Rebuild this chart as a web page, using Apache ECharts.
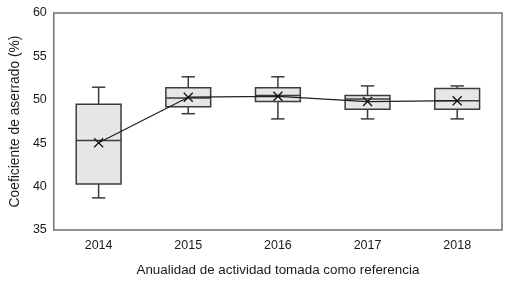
<!DOCTYPE html>
<html>
<head>
<meta charset="utf-8">
<script src="https://cdn.jsdelivr.net/npm/echarts@6/dist/echarts.min.js"></script>
<style>html,body{margin:0;padding:0;background:#fff}#c{width:511px;height:284px}</style>
</head>
<body>
<div id="c"></div>
<script>
var categories = ['2014', '2015', '2016', '2017', '2018'];
var whiskerLow = [38.7, 48.4, 47.8, 47.8, 47.8];
var q1 = [40.3, 49.2, 49.8, 48.9, 48.9];
var median = [45.3, 50.2, 50.5, 50.1, 49.9];
var q3 = [49.5, 51.4, 51.4, 50.5, 51.3];
var whiskerHigh = [51.45, 52.65, 52.65, 51.6, 51.6];
var means = [45.05, 50.3, 50.4, 49.8, 49.9];
var yTicks = [35, 40, 45, 50, 55, 60];

var boxData = categories.map(function (c, i) {
  return [i, whiskerLow[i], q1[i], median[i], q3[i], whiskerHigh[i], means[i]];
});

var FONT = '"Liberation Sans", Arial, sans-serif';
var chart = echarts.init(document.getElementById('c'));
chart.setOption({
  animation: false,
  grid: { left: 52, right: 9, top: 13, bottom: 54, show: true, borderColor: '#707070', borderWidth: 1.5, containLabel: false },
  xAxis: {
    type: 'category', data: categories, boundaryGap: true,
    axisLine: { show: false }, axisTick: { show: false },
    axisLabel: { color: '#1a1a1a', fontSize: 12.5, fontFamily: FONT, margin: 9 },
    name: 'Anualidad de actividad tomada como referencia', nameLocation: 'middle', nameGap: 34,
    nameTextStyle: { color: '#1a1a1a', fontSize: 13.4, fontFamily: FONT }
  },
  yAxis: {
    type: 'value', min: yTicks[0], max: yTicks[yTicks.length - 1], interval: 5,
    axisLine: { show: false }, axisTick: { show: false }, splitLine: { show: false },
    axisLabel: { color: '#1a1a1a', fontSize: 12.5, fontFamily: FONT, margin: 7 },
    name: 'Coeficiente de aserrado (%)', nameLocation: 'middle', nameGap: 29,
    nameTextStyle: { color: '#1a1a1a', fontSize: 13.8, fontFamily: FONT }
  },
  series: [
    {
      type: 'custom',
      data: boxData,
      z: 2,
      renderItem: function (params, api) {
        var idx = api.value(0);
        var band = api.size([1, 0])[0];
        var bw = band * 0.5;
        var cw = band * 0.15;
        var pLow = api.coord([idx, api.value(1)]);
        var pQ1 = api.coord([idx, api.value(2)]);
        var pMed = api.coord([idx, api.value(3)]);
        var pQ3 = api.coord([idx, api.value(4)]);
        var pHigh = api.coord([idx, api.value(5)]);
        var x = pMed[0];
        var stroke = { stroke: '#3c3c3c', lineWidth: 1.5 };
        return {
          type: 'group',
          children: [
            { type: 'line', shape: { x1: x, y1: pQ3[1], x2: x, y2: pHigh[1] }, style: stroke },
            { type: 'line', shape: { x1: x, y1: pQ1[1], x2: x, y2: pLow[1] }, style: stroke },
            { type: 'line', shape: { x1: x - cw / 2, y1: pHigh[1], x2: x + cw / 2, y2: pHigh[1] }, style: stroke },
            { type: 'line', shape: { x1: x - cw / 2, y1: pLow[1], x2: x + cw / 2, y2: pLow[1] }, style: stroke },
            { type: 'rect', shape: { x: x - bw / 2, y: pQ3[1], width: bw, height: pQ1[1] - pQ3[1] },
              style: { fill: '#e6e6e6', stroke: '#3c3c3c', lineWidth: 1.5 } },
            { type: 'line', shape: { x1: x - bw / 2, y1: pMed[1], x2: x + bw / 2, y2: pMed[1] }, style: stroke }
          ]
        };
      }
    },
    {
      type: 'line',
      data: means,
      z: 3,
      symbol: 'none',
      lineStyle: { color: '#1e1e1e', width: 1.2 }
    },
    {
      type: 'custom',
      data: boxData,
      z: 4,
      renderItem: function (params, api) {
        var p = api.coord([api.value(0), api.value(6)]);
        var s = 4.5;
        var st = { stroke: '#111', lineWidth: 1.3 };
        return {
          type: 'group',
          children: [
            { type: 'line', shape: { x1: p[0] - s, y1: p[1] - s, x2: p[0] + s, y2: p[1] + s }, style: st },
            { type: 'line', shape: { x1: p[0] - s, y1: p[1] + s, x2: p[0] + s, y2: p[1] - s }, style: st }
          ]
        };
      }
    }
  ]
});
</script>
</body>
</html>
